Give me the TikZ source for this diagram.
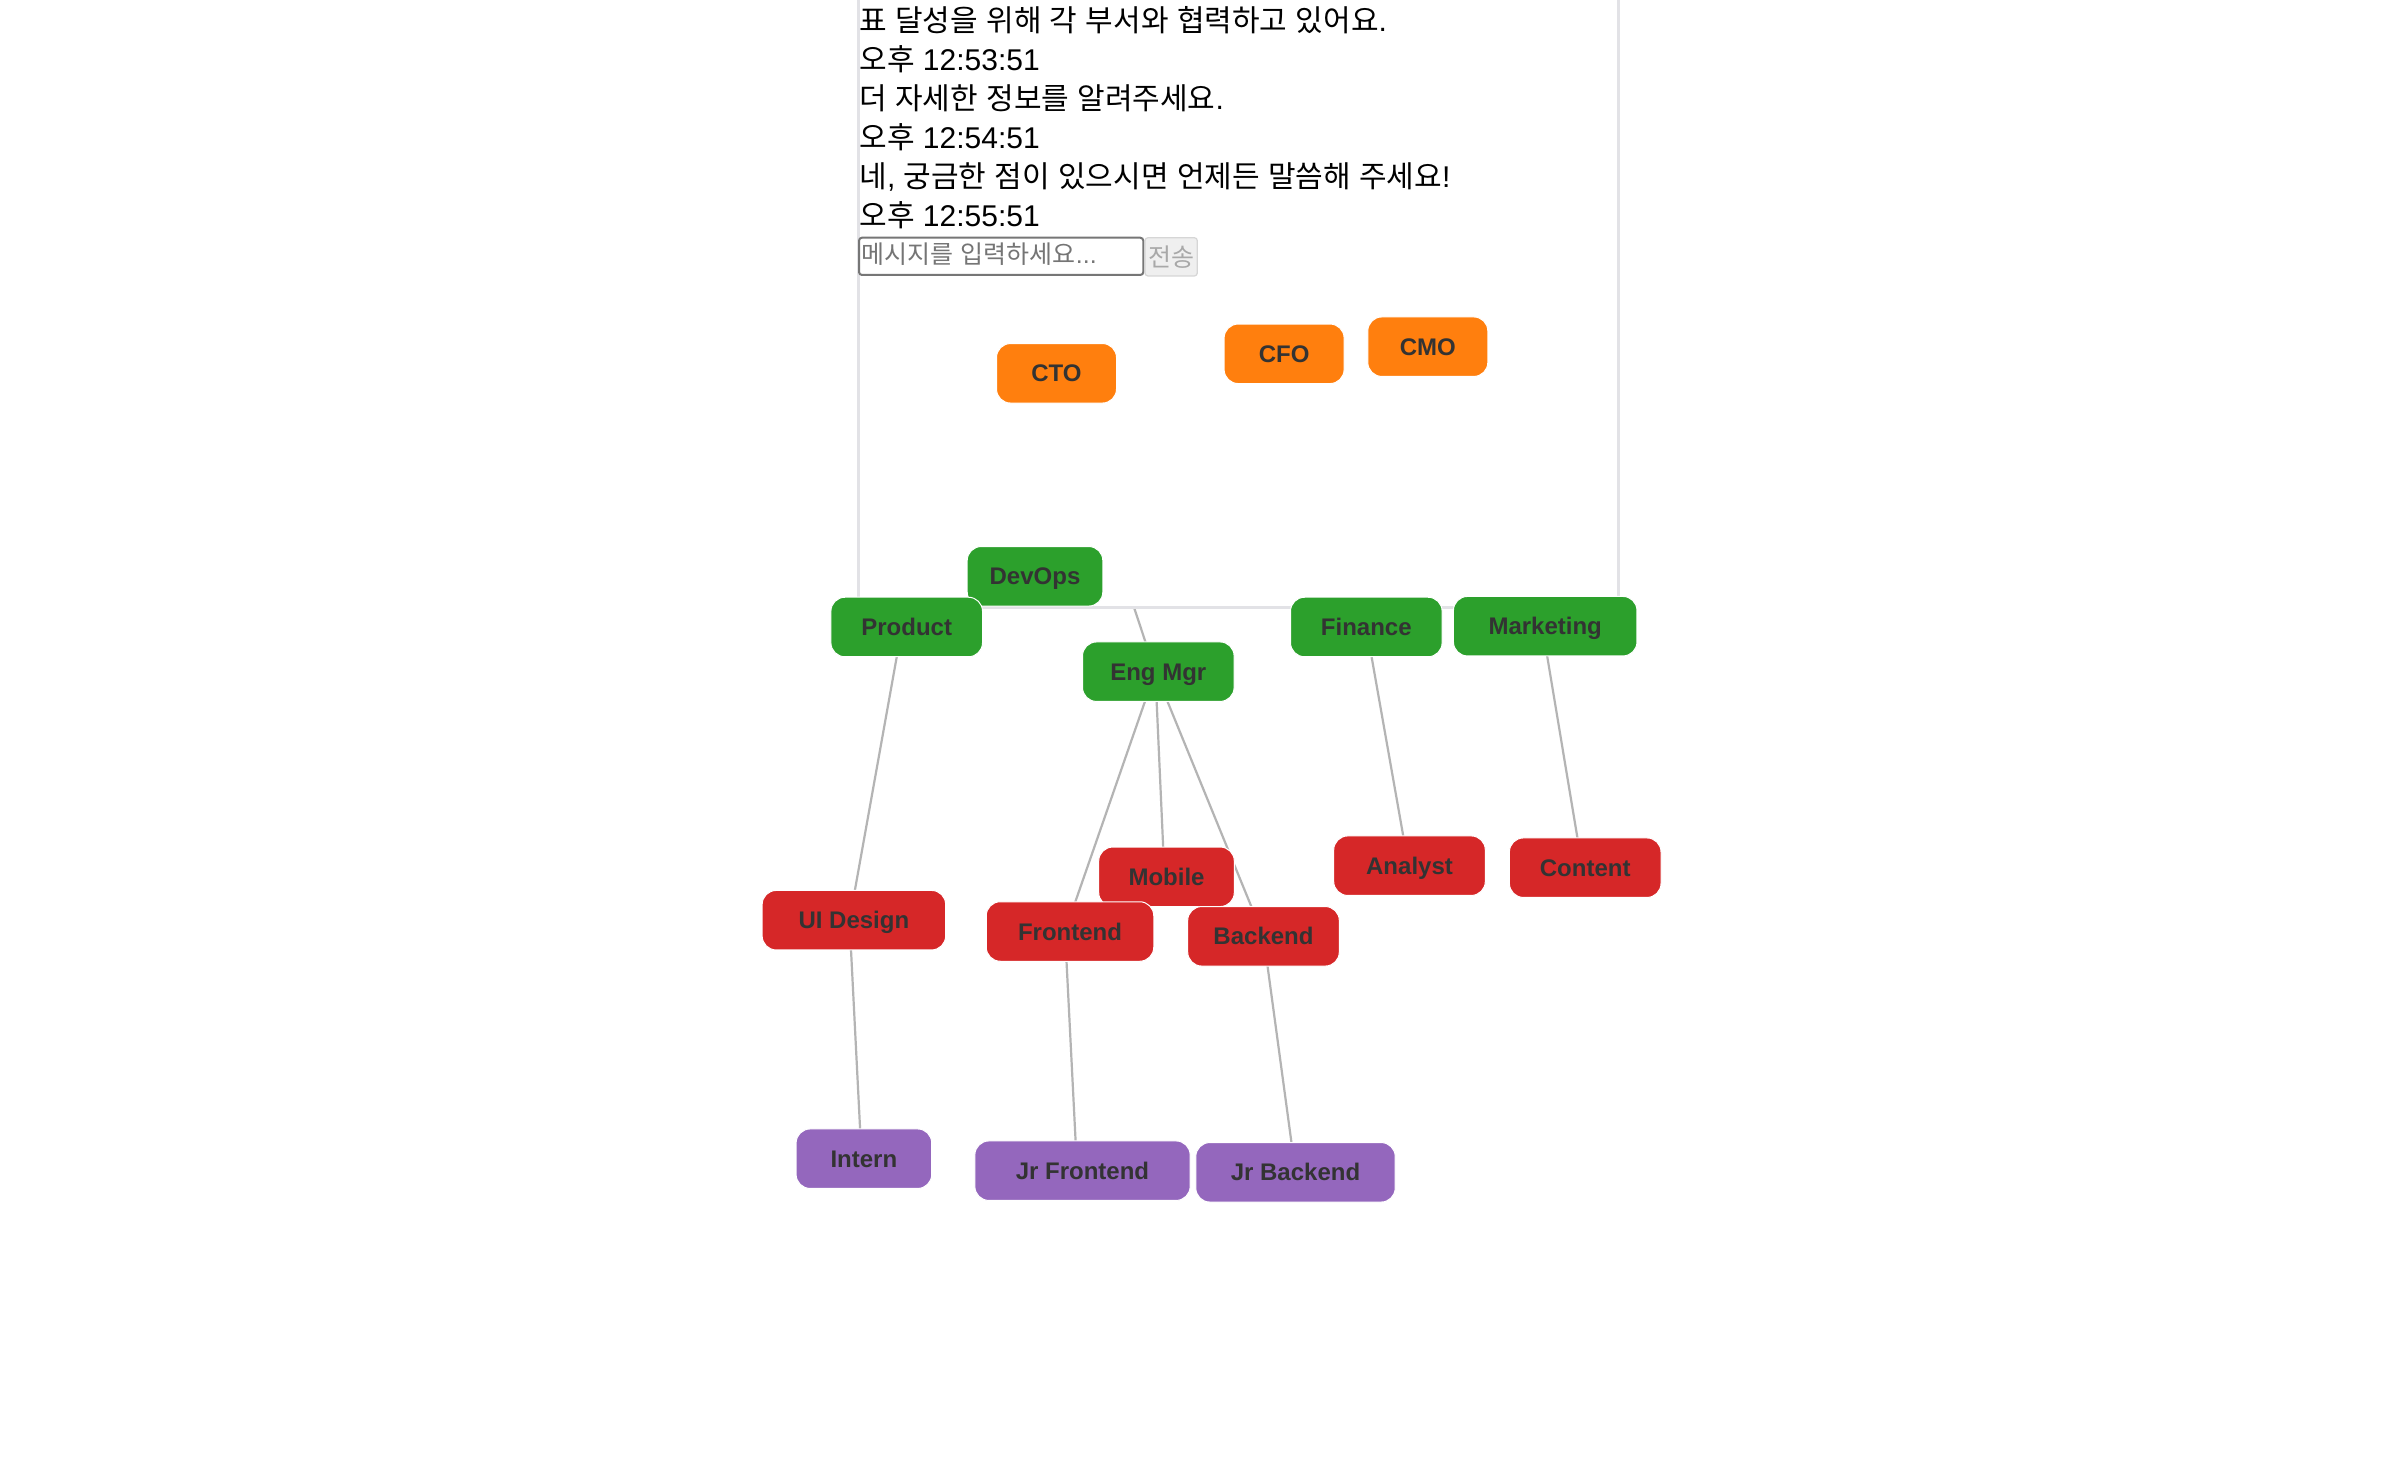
\documentclass[tikz,border=0pt]{standalone}
\usepackage{fontspec}
\setmainfont{Liberation Sans}
\newfontfamily\krfont{Noto Sans CJK KR}
\newcommand\kor[1]{{\krfont #1}}
\definecolor{orgc}{HTML}{FF7F0E}
\definecolor{grnc}{HTML}{2CA02C}
\definecolor{redc}{HTML}{D62728}
\definecolor{purc}{HTML}{9467BD}
\definecolor{txtc}{HTML}{333333}
\definecolor{linkc}{HTML}{B4B4B4}
\definecolor{framec}{HTML}{E2E2E6}
\definecolor{inpc}{HTML}{767676}
\definecolor{phc}{HTML}{757575}
\definecolor{btnc}{HTML}{EFEFEF}
\definecolor{btnb}{HTML}{D6D6D6}
\definecolor{btntx}{HTML}{A8A8A8}
\pgfdeclarelayer{bg}
\pgfdeclarelayer{mid}
\pgfsetlayers{bg,mid,main}
\begin{document}
\begin{tikzpicture}[x=0.5pt,y=-0.5pt,
  box/.style={rounded corners=7pt, minimum height=29.75pt, inner sep=0pt,
    text height=8.6pt, text depth=0pt,
    text=txtc, font=\fontsize{12}{14}\selectfont\bfseries, draw=white, line width=0.5pt},
  w3/.style={minimum width=60pt},
  w6/.style={minimum width=67.8pt},
  w7/.style={minimum width=75.8pt},
  w8/.style={minimum width=83.75pt},
  w9/.style={minimum width=91.75pt},
  w10/.style={minimum width=99.7pt},
  w11/.style={minimum width=107.65pt},
  link/.style={draw=linkc, line width=1.1pt},
  chat/.style={anchor=base west, inner sep=0pt, font=\fontsize{15}{18}\selectfont},
]
\begin{pgfonlayer}{bg}
\fill[white] (0,0) rectangle (2400,1470);
\end{pgfonlayer}
\useasboundingbox (0,0) rectangle (2400,1470);

% chat frame
\begin{pgfonlayer}{mid}
\fill[white] (858,-5) rectangle (1618,607.5);
\draw[framec, line width=1.5pt] (858,-5) -- (858,607.5) -- (1618,607.5) -- (1618,-5);
\end{pgfonlayer}

% chat text
\node[chat] (t1) at (859,31.3) {\kor{표} \kor{달성을} \kor{위해} \kor{각} \kor{부서와} \kor{협력하고} \kor{있어요}.};
\node[chat] (t2) at (859,70.3) {\kor{오후} 12:53:51};
\node[chat] (t3) at (859,109.3) {\kor{더} \kor{자세한} \kor{정보를} \kor{알려주세요}.};
\node[chat] (t4) at (859,148.3) {\kor{오후} 12:54:51};
\node[chat] (t5) at (859,187.3) {\kor{네}, \kor{궁금한} \kor{점이} \kor{있으시면} \kor{언제든} \kor{말씀해} \kor{주세요}!};
\node[chat] (t6) at (859,226.3) {\kor{오후} 12:55:51};

% input and button
\node[draw=inpc, line width=1pt, rounded corners=1.5pt, minimum width=142.15pt,
  minimum height=18.65pt, inner sep=0pt] (inp) at (1001.15,256.35) {};
\node[anchor=base west, inner sep=0pt, text=phc, font=\fontsize{12.5}{15}\selectfont]
  (ph) at (861.5,264) {\kor{메시지를} \kor{입력하세요}...};
\node[fill=btnc, draw=btnb, line width=0.6pt, rounded corners=1.5pt, minimum width=26.15pt,
  minimum height=19.15pt, inner sep=0pt, text=btntx, font=\fontsize{12.5}{15}\selectfont]
  (btn) at (1171.15,256.85) {\kor{전송}};

% org nodes
\node[box,w3,fill=orgc] (cto) at (1056.5,373.3) {CTO};
\node[box,w3,fill=orgc] (cfo) at (1284.1,353.8) {CFO};
\node[box,w3,fill=orgc] (cmo) at (1427.8,346.7) {CMO};
\node[box,w6,fill=grnc] (devops) at (1035,576.3) {DevOps};
\node[box,w7,fill=grnc] (product) at (906.7,627) {Product};
\node[box,w7,fill=grnc] (finance) at (1366.3,627) {Finance};
\node[box,w9,fill=grnc] (marketing) at (1545.2,626.2) {Marketing};
\node[box,w7,fill=grnc] (eng) at (1158.3,671.7) {Eng Mgr};
\node[box,w6,fill=redc] (mobile) at (1166.5,876.8) {Mobile};
\node[box,w8,fill=redc] (frontend) at (1070,931.5) {Frontend};
\node[box,w7,fill=redc] (backend) at (1263.5,936.3) {Backend};
\node[box,w7,fill=redc] (analyst) at (1409.5,865.7) {Analyst};
\node[box,w7,fill=redc] (content) at (1585.2,867.7) {Content};
\node[box,w9,fill=redc] (uidesign) at (853.9,920.2) {UI Design};
\node[box,w6,fill=purc] (intern) at (863.9,1158.7) {Intern};
\node[box,w11,fill=purc] (jrfront) at (1082.5,1170.7) {Jr Frontend};
\node[box,w10,fill=purc] (jrback) at (1295.5,1172.3) {Jr Backend};

% links
\begin{pgfonlayer}{bg}
\draw[link] (cto.center) -- ([xshift=-1.5pt]eng.center);
\draw[link] ([xshift=-2.3pt]product.center) -- ([xshift=-2.2pt]uidesign.center);
\draw[link] ([xshift=-2.2pt]uidesign.center) -- ([xshift=-1.15pt]intern.center);
\draw[link] ([xshift=-1.5pt]eng.center) -- ([xshift=-2.5pt]frontend.center);
\draw[link] ([xshift=-1.5pt]eng.center) -- ([xshift=-1pt]mobile.center);
\draw[link] ([xshift=-1.5pt]eng.center) -- (backend.center);
\draw[link] ([xshift=-2.5pt]frontend.center) -- ([xshift=-2.7pt]jrfront.center);
\draw[link] (backend.center) -- (jrback.center);
\draw[link] (finance.center) -- ([xshift=-0.5pt]analyst.center);
\draw[link] ([xshift=-1.5pt]marketing.center) -- ([xshift=-1.4pt]content.center);
\end{pgfonlayer}
\end{tikzpicture}
\end{document}
